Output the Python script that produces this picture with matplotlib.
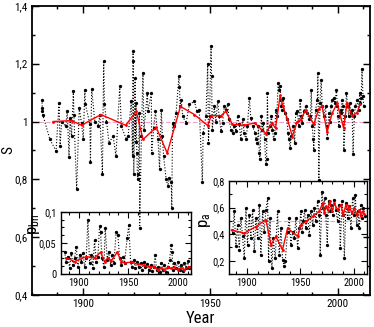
import matplotlib
matplotlib.use("Agg")
import matplotlib.pyplot as plt
from matplotlib import font_manager
from matplotlib.ticker import MultipleLocator, FuncFormatter

_names = {f.name for f in font_manager.fontManager.ttflist}
_fam = 'DejaVu Sans'
for cand in ['Liberation Sans Narrow', 'Roboto Condensed', 'Open Sans Condensed', 'Liberation Sans']:
    if cand in _names:
        _fam = cand
        break
NARROW = _fam in ('Liberation Sans Narrow', 'Roboto Condensed', 'Open Sans Condensed')
plt.rcParams['font.family'] = [_fam, 'DejaVu Sans']
plt.rcParams['mathtext.fontset'] = 'custom'
plt.rcParams['mathtext.rm'] = _fam
plt.rcParams['mathtext.it'] = _fam

# ---------------- main series S ----------------
s_years = [1884.0, 1884.1, 1884.2, 1884.3, 1887.1, 1889.5, 1890.7, 1891.1, 1891.7, 1893.3,
           1893.9, 1894.6, 1895.0, 1895.6, 1896.3, 1896.5, 1897.6, 1898.6, 1899.5, 1900.2,
           1900.8, 1901.0, 1902.8, 1903.0, 1903.5, 1904.7, 1906.0, 1906.7, 1907.7, 1908.2,
           1908.5, 1909.3, 1910.3, 1911.9, 1913.0, 1914.5, 1915.1, 1917.1, 1917.8, 1919.0,
           1919.5, 1919.7, 1919.8, 1920.0, 1920.5, 1920.7, 1920.9, 1921.2, 1921.5, 1921.8,
           1922.2, 1922.3, 1923.0, 1923.6, 1924.0, 1925.3, 1925.6, 1926.9, 1927.0, 1927.8,
           1928.5, 1929.5, 1930.1, 1930.8, 1931.2, 1931.7, 1932.7, 1933.4, 1933.9, 1934.7,
           1934.9, 1935.2, 1935.6, 1936.6, 1937.7, 1937.9, 1938.2, 1938.6, 1939.2, 1940.5,
           1941.8, 1943.8, 1944.7, 1945.7, 1946.9, 1947.2, 1948.3, 1949.0, 1949.3, 1949.7,
           1950.3, 1950.5, 1950.8, 1951.6, 1952.2, 1952.9, 1953.5, 1954.2, 1954.8, 1955.5,
           1956.1, 1956.8, 1957.4, 1958.1, 1958.8, 1959.4, 1960.1, 1960.7, 1961.4, 1962.0,
           1962.7, 1963.3, 1964.0, 1964.6, 1965.3, 1965.9, 1966.6, 1967.6, 1968.1, 1968.5,
           1968.9, 1969.2, 1969.5, 1970.0, 1970.4, 1970.8, 1971.3, 1971.8, 1972.1, 1972.4,
           1972.7, 1973.4, 1974.0, 1974.4, 1974.8, 1975.3, 1975.7, 1976.1, 1976.6, 1977.0,
           1977.4, 1977.6, 1977.9, 1978.3, 1978.7, 1979.2, 1980.0, 1980.5, 1980.9, 1981.3,
           1981.8, 1982.6, 1983.1, 1983.5, 1984.1, 1984.8, 1985.2, 1985.7, 1986.1, 1986.7,
           1987.4, 1988.0, 1988.7, 1989.3, 1989.6, 1990.0, 1990.4, 1990.6, 1991.3, 1992.0,
           1992.2, 1992.6, 1993.0, 1993.5, 1993.9, 1994.5, 1995.2, 1995.6, 1995.9, 1996.5,
           1996.9, 1997.4, 1997.9, 1998.4, 1998.9, 1999.5, 1999.8, 2000.0, 2000.4, 2001.1,
           2001.3, 2001.7, 2002.1, 2002.4, 2003.0, 2003.4, 2003.9, 2004.3, 2004.7, 2005.2,
           2005.6, 2006.0, 2006.5, 2006.9, 2007.6, 2008.2, 2008.6, 2008.9, 2009.2, 2009.5,
           2009.9, 2010.2]
s_values = [1.076, 1.047, 1.036, 1.024, 0.938, 0.898, 1.064, 0.915, 1.000, 0.984,
            1.036, 0.878, 1.013, 0.950, 1.105, 1.024, 0.765, 1.047, 0.995, 0.938,
            1.110, 1.060, 0.990, 0.860, 1.113, 1.000, 0.984, 1.024, 0.820, 1.210,
            1.060, 1.000, 0.926, 0.950, 0.880, 1.122, 0.984, 0.938, 0.950, 1.070,
            0.880, 1.243, 1.210, 0.817, 1.150, 0.930, 1.064, 0.890, 0.800, 0.820,
            1.030, 0.630, 0.950, 1.168, 0.970, 1.099, 1.036, 1.099, 0.890, 0.978,
            1.036, 0.938, 0.835, 1.040, 0.950, 0.880, 0.800, 0.777, 0.806, 0.790,
            0.700, 0.995, 0.984, 1.030, 1.156, 1.120, 1.053, 1.076, 1.018, 0.995,
            1.059, 1.070, 1.036, 1.040, 0.790, 0.960, 1.018, 1.200, 0.926, 1.018,
            1.260, 1.156, 0.972, 1.053, 1.000, 1.070, 1.018, 0.967, 0.995, 1.053,
            1.040, 1.059, 1.007, 0.972, 0.960, 0.984, 0.967, 1.018, 0.990, 0.938,
            1.007, 0.960, 0.938, 0.984, 1.082, 1.013, 0.984, 0.960, 0.938, 0.926,
            0.984, 0.890, 0.870, 1.018, 0.972, 0.995, 0.938, 0.852, 0.870, 1.099,
            0.960, 0.984, 1.018, 0.972, 0.938, 0.960, 1.040, 1.018, 1.133, 1.110,
            1.122, 1.076, 1.053, 1.040, 1.082, 1.030, 1.007, 0.960, 0.938, 0.910,
            0.950, 0.984, 0.926, 1.030, 1.036, 0.984, 1.076, 1.018, 0.995, 1.036,
            1.053, 1.030, 1.007, 1.018, 1.110, 0.984, 0.938, 0.903, 1.040, 1.076,
            1.168, 0.797, 1.064, 1.145, 1.053, 1.018, 1.053, 0.984, 0.944, 1.030,
            1.000, 1.053, 1.076, 1.082, 1.064, 1.110, 1.053, 1.018, 0.984, 1.030,
            1.040, 1.076, 1.053, 0.903, 1.018, 1.099, 1.053, 1.018, 1.064, 1.030,
            1.040, 0.886, 1.018, 1.053, 1.076, 1.040, 1.099, 1.064, 1.082, 1.180,
            1.087, 1.053]

s_avg_years = [1888.4, 1895.6, 1899.5, 1907.1, 1916.8, 1921.0, 1923.6, 1928.8, 1933.1, 1938.3,
               1943.8, 1949.0, 1950.4, 1954.2, 1956.1, 1958.7, 1963.3, 1967.5, 1971.7, 1974.1,
               1975.6, 1977.4, 1978.5, 1980.2, 1982.2, 1984.1, 1985.4, 1987.4, 1990.6, 1992.6,
               1993.9, 1995.8, 1997.8, 1999.8, 2002.3, 2003.6, 2005.6, 2007.5, 2008.8]
s_avg_values = [1.000, 1.003, 0.987, 1.024, 0.987, 1.035, 0.938, 0.980, 0.891, 1.052,
                1.024, 0.986, 1.020, 1.020, 1.035, 0.990, 0.987, 0.995, 0.958, 0.995,
                0.977, 1.090, 1.052, 1.010, 0.948, 1.000, 1.006, 1.040, 0.990, 1.045,
                1.052, 0.964, 1.029, 1.063, 0.977, 1.065, 1.020, 1.030, 1.060]

# ---------------- inset p_bn ----------------
bn_years = [1885.5, 1887.2, 1888.9, 1890.6, 1892.3, 1894.0, 1895.6, 1897.3, 1899.0, 1900.7,
            1902.4, 1904.1, 1905.7, 1907.4, 1909.1, 1910.8, 1912.5, 1914.2, 1915.8, 1917.5,
            1919.2, 1920.9, 1921.9, 1923.2, 1925.3, 1926.6, 1928.6, 1930.0, 1932.0, 1933.3,
            1935.4, 1937.7, 1939.4, 1941.1, 1942.8, 1944.5, 1946.1, 1948.8, 1950.5, 1952.2,
            1953.5, 1955.5, 1956.9, 1958.9, 1960.3, 1962.3, 1963.7, 1965.7, 1967.0, 1969.0,
            1970.4, 1972.4, 1973.7, 1975.8, 1977.1, 1978.5, 1979.8, 1981.5, 1983.2, 1984.9,
            1986.5, 1988.2, 1989.9, 1991.6, 1993.3, 1994.0, 1995.3, 1996.6, 1998.3, 2000.0,
            2001.7, 2003.4, 2005.1, 2006.7, 2008.4, 2010.1, 2011.1]
bn_values = [0.036, 0.020, 0.028, 0.010, 0.034, 0.015, 0.026, 0.044, 0.012, 0.031,
             0.020, 0.034, 0.012, 0.026, 0.087, 0.018, 0.031, 0.010, 0.055, 0.020,
             0.028, 0.077, 0.068, 0.026, 0.012, 0.074, 0.023, 0.036, 0.015, 0.031,
             0.018, 0.068, 0.063, 0.026, 0.015, 0.028, 0.018, 0.058, 0.079, 0.020,
             0.012, 0.023, 0.010, 0.020, 0.012, 0.018, 0.007, 0.020, 0.011, 0.016,
             0.007, 0.015, 0.005, 0.012, 0.031, 0.007, 0.012, 0.004, 0.018, 0.007,
             0.015, 0.004, 0.012, 0.023, 0.047, 0.036, 0.007, 0.018, 0.010, 0.020,
             0.007, 0.015, 0.005, 0.018, 0.010, 0.021, 0.010]
bn_avg_years = [1887.2, 1895.6, 1907.4, 1915.8, 1921.9, 1925.9, 1929.3, 1932.7, 1938.7, 1942.8,
                1946.1, 1952.9, 1959.6, 1966.3, 1971.4, 1976.4, 1979.8, 1983.2, 1986.5, 1989.9,
                1993.3, 1996.6, 2000.0, 2003.4, 2006.7, 2010.8]
bn_avg_values = [0.026, 0.020, 0.028, 0.026, 0.035, 0.020, 0.026, 0.021, 0.035, 0.020,
                 0.018, 0.019, 0.016, 0.014, 0.012, 0.011, 0.007, 0.010, 0.007, 0.011,
                 0.009, 0.011, 0.007, 0.010, 0.007, 0.012]

# ---------------- inset p_a ----------------
pa_years = [1886.5, 1888.0, 1889.6, 1891.1, 1892.7, 1894.3, 1895.8, 1897.4, 1899.0, 1900.5,
            1902.1, 1903.6, 1905.2, 1906.8, 1908.3, 1909.9, 1911.5, 1913.0, 1914.6, 1916.1,
            1917.7, 1919.3, 1920.2, 1921.5, 1923.3, 1924.6, 1926.4, 1928.6, 1930.2, 1931.8,
            1933.3, 1934.9, 1935.8, 1938.0, 1939.6, 1941.1, 1942.7, 1944.3, 1945.8, 1947.4,
            1949.0, 1950.5, 1951.5, 1952.7, 1954.0, 1955.2, 1956.8, 1958.3, 1959.9, 1961.5,
            1963.0, 1964.6, 1966.1, 1967.7, 1968.6, 1970.2, 1971.4, 1972.7, 1973.9, 1975.2,
            1976.4, 1977.7, 1979.0, 1980.2, 1981.8, 1983.3, 1984.9, 1986.4, 1987.4, 1989.0,
            1990.2, 1991.2, 1992.7, 1994.3, 1995.8, 1997.4, 1998.9, 2000.5, 2001.5, 2002.7,
            2004.0, 2005.2, 2006.5, 2007.7, 2009.0, 2010.2]
pa_values = [0.408, 0.572, 0.308, 0.471, 0.283, 0.521, 0.383, 0.220, 0.597, 0.320,
             0.546, 0.370, 0.584, 0.270, 0.521, 0.370, 0.620, 0.245, 0.572, 0.420,
             0.584, 0.672, 0.195, 0.521, 0.145, 0.370, 0.220, 0.572, 0.245, 0.446,
             0.208, 0.158, 0.195, 0.420, 0.521, 0.320, 0.420, 0.370, 0.521, 0.295,
             0.446, 0.572, 0.420, 0.496, 0.584, 0.446, 0.546, 0.396, 0.572, 0.471,
             0.597, 0.496, 0.647, 0.546, 0.245, 0.722, 0.597, 0.672, 0.546, 0.320,
             0.647, 0.572, 0.622, 0.546, 0.660, 0.584, 0.496, 0.622, 0.295, 0.647,
             0.546, 0.220, 0.634, 0.521, 0.609, 0.446, 0.672, 0.546, 0.697, 0.471,
             0.572, 0.446, 0.622, 0.521, 0.600, 0.540]
pa_avg_years = [1885.5, 1897.4, 1908.3, 1917.7, 1922.4, 1927.0, 1933.3, 1938.0, 1947.4, 1950.5,
                1955.2, 1961.5, 1967.7, 1970.9, 1972.4, 1973.9, 1975.5, 1977.7, 1979.6, 1981.8,
                1984.9, 1988.0, 1990.2, 1992.7, 1994.3, 1995.8, 1998.3, 2000.5, 2002.7, 2005.2,
                2006.8, 2008.3, 2010.0]
pa_avg_values = [0.433, 0.408, 0.458, 0.509, 0.320, 0.383, 0.283, 0.446, 0.383, 0.471,
                 0.496, 0.534, 0.572, 0.634, 0.559, 0.609, 0.584, 0.647, 0.572, 0.634,
                 0.584, 0.622, 0.546, 0.622, 0.584, 0.609, 0.559, 0.597, 0.546, 0.584,
                 0.534, 0.572, 0.550]

TICK_MAIN = 8 if NARROW else 7
TICK_IN = 7.5 if NARROW else 6.5


def comma(v, pos):
    s = '{:g}'.format(round(v, 4))
    return s.replace('.', ',')


def style(ax, major_x, minor_x, major_y, minor_y, lw, lab, majlen, minlen):
    ax.xaxis.set_major_locator(MultipleLocator(major_x))
    ax.xaxis.set_minor_locator(MultipleLocator(minor_x))
    ax.yaxis.set_major_locator(MultipleLocator(major_y))
    ax.yaxis.set_minor_locator(MultipleLocator(minor_y))
    ax.yaxis.set_major_formatter(FuncFormatter(comma))
    ax.tick_params(which='both', direction='in', top=True, right=True, width=lw * 0.8,
                   labelsize=lab, pad=3)
    ax.tick_params(which='major', length=majlen)
    ax.tick_params(which='minor', length=minlen)
    for sp in ax.spines.values():
        sp.set_linewidth(lw)


BLACK = dict(color='black', ls=':', lw=0.8, marker='o', ms=2.4, mew=0,
             mfc='black', zorder=2)
RED = dict(color='red', lw=1.0, marker='o', ms=2.0, mew=0, zorder=3)

fig = plt.figure(figsize=(3.74, 3.27), dpi=100)

# main axes
ax = fig.add_axes([0.085, 0.098, 0.904, 0.884])
ax.hlines(1.0, 1883, 2011, colors='#f0a0c8', linestyles=(0, (4, 2)), lw=0.8, zorder=1)
ax.plot(s_years, s_values, **BLACK)
ax.plot(s_avg_years, s_avg_values, **RED)
ax.set_xlim(1880, 2012.6)
ax.set_ylim(0.4, 1.4)
style(ax, 50, 10, 0.2, 0.1, 1.3, TICK_MAIN, 5, 2.5)
ax.set_xlabel('Year', fontsize=12, labelpad=1)
ax.set_ylabel('S', fontsize=11)
ax.yaxis.set_label_coords(-0.05, 0.5)

# inset p_bn
ax1 = fig.add_axes([0.162, 0.162, 0.350, 0.1905])
ax1.patch.set_alpha(0)
ax1.plot(bn_years, bn_values, **BLACK)
ax1.plot(bn_avg_years, bn_avg_values, **RED)
ax1.set_xlim(1881.5, 2013.8)
ax1.set_ylim(0, 0.1)
style(ax1, 50, 10, 0.05, 0.0125, 1.0, TICK_IN, 4, 2)
ax1.set_ylabel(r'$\mathregular{p_{bn}}$', fontsize=12)
ax1.yaxis.set_label_coords(-0.14, 0.80)

# inset p_a
ax2 = fig.add_axes([0.612, 0.162, 0.368, 0.284])
ax2.patch.set_alpha(0)
ax2.hlines(0.5, 1884, 2011, colors='#f0a0c8', linestyles=(0, (4, 2)), lw=0.8, zorder=1)
ax2.plot(pa_years, pa_values, **BLACK)
ax2.plot(pa_avg_years, pa_avg_values, **RED)
ax2.set_xlim(1883, 2012)
ax2.set_ylim(0.1, 0.8)
style(ax2, 50, 10, 0.2, 0.1, 1.0, TICK_IN, 4, 2)
ax2.set_ylabel(r'$\mathregular{p_a}$', fontsize=12)
ax2.yaxis.set_label_coords(-0.115, 0.58)

fig.savefig('out.png', dpi=100)
